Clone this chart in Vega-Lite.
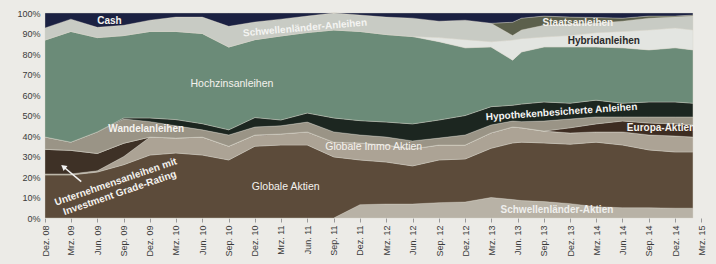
{
  "$schema": "https://vega.github.io/schema/vega-lite/v6.json",
  "width": 656,
  "height": 205,
  "autosize": "none",
  "padding": {"left": 45, "top": 13, "right": 15, "bottom": 46},
  "background": "#ecebe7",
  "config": {"view": {"stroke": null}, "font": "Liberation Sans"},
  "datasets": {
    "alloc": [
      {"date":"2008-12-01","Schwellenländer-Aktien":0,"Globale Aktien":21,"Globale Immo Aktien":0.5,"Unternehmensanleihen mit Investment Grade-Rating":12,"Europa-Aktien":0,"Wandelanleihen":6,"Hypothekenbesicherte Anleihen":0,"Hochzinsanleihen":47.3,"Hybridanleihen":0,"Schwellenländer-Anleihen":5.9,"Staatsanleihen":0,"Cash":7.3},
      {"date":"2009-03-01","Schwellenländer-Aktien":0,"Globale Aktien":21,"Globale Immo Aktien":0.5,"Unternehmensanleihen mit Investment Grade-Rating":11.5,"Europa-Aktien":0,"Wandelanleihen":4,"Hypothekenbesicherte Anleihen":0,"Hochzinsanleihen":54,"Hybridanleihen":0,"Schwellenländer-Anleihen":6,"Staatsanleihen":0,"Cash":3},
      {"date":"2009-06-01","Schwellenländer-Aktien":0,"Globale Aktien":22.4,"Globale Immo Aktien":0.6,"Unternehmensanleihen mit Investment Grade-Rating":8.5,"Europa-Aktien":0,"Wandelanleihen":10.5,"Hypothekenbesicherte Anleihen":0,"Hochzinsanleihen":46,"Hybridanleihen":0,"Schwellenländer-Anleihen":5,"Staatsanleihen":0,"Cash":7},
      {"date":"2009-09-01","Schwellenländer-Aktien":0,"Globale Aktien":26,"Globale Immo Aktien":4,"Unternehmensanleihen mit Investment Grade-Rating":6.5,"Europa-Aktien":0,"Wandelanleihen":11.8,"Hypothekenbesicherte Anleihen":0.5,"Hochzinsanleihen":40.2,"Hybridanleihen":0,"Schwellenländer-Anleihen":5,"Staatsanleihen":0,"Cash":6},
      {"date":"2009-12-01","Schwellenländer-Aktien":0,"Globale Aktien":30.7,"Globale Immo Aktien":8.8,"Unternehmensanleihen mit Investment Grade-Rating":0,"Europa-Aktien":0,"Wandelanleihen":7.5,"Hypothekenbesicherte Anleihen":1.8,"Hochzinsanleihen":42.2,"Hybridanleihen":0,"Schwellenländer-Anleihen":5.5,"Staatsanleihen":0,"Cash":3.5},
      {"date":"2010-03-01","Schwellenländer-Aktien":0,"Globale Aktien":31.7,"Globale Immo Aktien":7.3,"Unternehmensanleihen mit Investment Grade-Rating":0,"Europa-Aktien":0,"Wandelanleihen":6,"Hypothekenbesicherte Anleihen":3,"Hochzinsanleihen":43,"Hybridanleihen":0,"Schwellenländer-Anleihen":7,"Staatsanleihen":0,"Cash":2},
      {"date":"2010-06-01","Schwellenländer-Aktien":0,"Globale Aktien":30.7,"Globale Immo Aktien":8.8,"Unternehmensanleihen mit Investment Grade-Rating":0,"Europa-Aktien":0,"Wandelanleihen":3.5,"Hypothekenbesicherte Anleihen":3,"Hochzinsanleihen":44,"Hybridanleihen":0,"Schwellenländer-Anleihen":8,"Staatsanleihen":0,"Cash":2},
      {"date":"2010-09-01","Schwellenländer-Aktien":0,"Globale Aktien":28.3,"Globale Immo Aktien":6.7,"Unternehmensanleihen mit Investment Grade-Rating":0,"Europa-Aktien":0,"Wandelanleihen":5.5,"Hypothekenbesicherte Anleihen":2.5,"Hochzinsanleihen":40.4,"Hybridanleihen":0,"Schwellenländer-Anleihen":10.1,"Staatsanleihen":0,"Cash":6.5},
      {"date":"2010-12-01","Schwellenländer-Aktien":0,"Globale Aktien":35,"Globale Immo Aktien":5.5,"Unternehmensanleihen mit Investment Grade-Rating":0,"Europa-Aktien":0,"Wandelanleihen":3.9,"Hypothekenbesicherte Anleihen":4.6,"Hochzinsanleihen":38,"Hybridanleihen":0,"Schwellenländer-Anleihen":8.6,"Staatsanleihen":0,"Cash":4.4},
      {"date":"2011-03-01","Schwellenländer-Aktien":0,"Globale Aktien":35.6,"Globale Immo Aktien":5.4,"Unternehmensanleihen mit Investment Grade-Rating":0,"Europa-Aktien":0,"Wandelanleihen":4,"Hypothekenbesicherte Anleihen":2.8,"Hochzinsanleihen":41,"Hybridanleihen":0,"Schwellenländer-Anleihen":8.2,"Staatsanleihen":0,"Cash":3},
      {"date":"2011-06-01","Schwellenländer-Aktien":0,"Globale Aktien":35.6,"Globale Immo Aktien":6.4,"Unternehmensanleihen mit Investment Grade-Rating":0,"Europa-Aktien":0,"Wandelanleihen":4.8,"Hypothekenbesicherte Anleihen":4.4,"Hochzinsanleihen":39.3,"Hybridanleihen":0,"Schwellenländer-Anleihen":8,"Staatsanleihen":0,"Cash":1.5},
      {"date":"2011-09-01","Schwellenländer-Aktien":0,"Globale Aktien":29.8,"Globale Immo Aktien":7.2,"Unternehmensanleihen mit Investment Grade-Rating":0,"Europa-Aktien":0,"Wandelanleihen":5,"Hypothekenbesicherte Anleihen":6.8,"Hochzinsanleihen":42.9,"Hybridanleihen":0,"Schwellenländer-Anleihen":8.3,"Staatsanleihen":0,"Cash":0},
      {"date":"2011-12-01","Schwellenländer-Aktien":6.5,"Globale Aktien":21.8,"Globale Immo Aktien":8.3,"Unternehmensanleihen mit Investment Grade-Rating":0,"Europa-Aktien":0,"Wandelanleihen":3.9,"Hypothekenbesicherte Anleihen":7,"Hochzinsanleihen":43.5,"Hybridanleihen":0,"Schwellenländer-Anleihen":8,"Staatsanleihen":0,"Cash":1},
      {"date":"2012-03-01","Schwellenländer-Aktien":6.8,"Globale Aktien":20.5,"Globale Immo Aktien":8.3,"Unternehmensanleihen mit Investment Grade-Rating":0,"Europa-Aktien":0,"Wandelanleihen":3.9,"Hypothekenbesicherte Anleihen":7.3,"Hochzinsanleihen":42.7,"Hybridanleihen":0,"Schwellenländer-Anleihen":8.5,"Staatsanleihen":0,"Cash":2},
      {"date":"2012-06-01","Schwellenländer-Aktien":6.8,"Globale Aktien":18.6,"Globale Immo Aktien":8.3,"Unternehmensanleihen mit Investment Grade-Rating":0,"Europa-Aktien":0,"Wandelanleihen":3.9,"Hypothekenbesicherte Anleihen":8.3,"Hochzinsanleihen":42.6,"Hybridanleihen":0,"Schwellenländer-Anleihen":9,"Staatsanleihen":0,"Cash":2.5},
      {"date":"2012-09-01","Schwellenländer-Aktien":7.5,"Globale Aktien":20.8,"Globale Immo Aktien":7.3,"Unternehmensanleihen mit Investment Grade-Rating":0,"Europa-Aktien":0,"Wandelanleihen":3.4,"Hypothekenbesicherte Anleihen":8.8,"Hochzinsanleihen":38.2,"Hybridanleihen":2,"Schwellenländer-Anleihen":8,"Staatsanleihen":0,"Cash":4},
      {"date":"2012-12-01","Schwellenländer-Aktien":7.8,"Globale Aktien":21,"Globale Immo Aktien":6.8,"Unternehmensanleihen mit Investment Grade-Rating":0,"Europa-Aktien":0,"Wandelanleihen":4.9,"Hypothekenbesicherte Anleihen":9.5,"Hochzinsanleihen":33,"Hybridanleihen":4,"Schwellenländer-Anleihen":9.5,"Staatsanleihen":0,"Cash":3.5},
      {"date":"2013-03-01","Schwellenländer-Aktien":10,"Globale Aktien":24,"Globale Immo Aktien":7.5,"Unternehmensanleihen mit Investment Grade-Rating":0,"Europa-Aktien":0,"Wandelanleihen":3.9,"Hypothekenbesicherte Anleihen":8.9,"Hochzinsanleihen":29.1,"Hybridanleihen":2.6,"Schwellenländer-Anleihen":9,"Staatsanleihen":0,"Cash":5},
      {"date":"2013-05-15","Schwellenländer-Aktien":9,"Globale Aktien":27.6,"Globale Immo Aktien":7.8,"Unternehmensanleihen mit Investment Grade-Rating":0,"Europa-Aktien":0,"Wandelanleihen":2.9,"Hypothekenbesicherte Anleihen":7.7,"Hochzinsanleihen":22,"Hybridanleihen":9.8,"Schwellenländer-Anleihen":2.2,"Staatsanleihen":6.5,"Cash":4.5},
      {"date":"2013-06-15","Schwellenländer-Aktien":8.5,"Globale Aktien":28.5,"Globale Immo Aktien":7,"Unternehmensanleihen mit Investment Grade-Rating":0,"Europa-Aktien":0,"Wandelanleihen":3,"Hypothekenbesicherte Anleihen":8.6,"Hochzinsanleihen":25.4,"Hybridanleihen":6.5,"Schwellenländer-Anleihen":4.2,"Staatsanleihen":5.8,"Cash":2.5},
      {"date":"2013-09-01","Schwellenländer-Aktien":8,"Globale Aktien":28.6,"Globale Immo Aktien":5.8,"Unternehmensanleihen mit Investment Grade-Rating":0,"Europa-Aktien":0,"Wandelanleihen":4.9,"Hypothekenbesicherte Anleihen":9.3,"Hochzinsanleihen":26.8,"Hybridanleihen":4.9,"Schwellenländer-Anleihen":5.7,"Staatsanleihen":4.5,"Cash":1.5},
      {"date":"2013-12-01","Schwellenländer-Aktien":7,"Globale Aktien":29,"Globale Immo Aktien":5.5,"Unternehmensanleihen mit Investment Grade-Rating":0,"Europa-Aktien":2.5,"Wandelanleihen":4.3,"Hypothekenbesicherte Anleihen":7.7,"Hochzinsanleihen":27.4,"Hybridanleihen":5.6,"Schwellenländer-Anleihen":5.6,"Staatsanleihen":3.4,"Cash":2},
      {"date":"2014-03-01","Schwellenländer-Aktien":5.5,"Globale Aktien":31.5,"Globale Immo Aktien":5,"Unternehmensanleihen mit Investment Grade-Rating":0,"Europa-Aktien":3.9,"Wandelanleihen":3.4,"Hypothekenbesicherte Anleihen":8.2,"Hochzinsanleihen":25.9,"Hybridanleihen":7,"Schwellenländer-Anleihen":4.6,"Staatsanleihen":2.8,"Cash":2.2},
      {"date":"2014-06-01","Schwellenländer-Aktien":5,"Globale Aktien":30.6,"Globale Immo Aktien":6.4,"Unternehmensanleihen mit Investment Grade-Rating":0,"Europa-Aktien":5.3,"Wandelanleihen":2,"Hypothekenbesicherte Anleihen":6.7,"Hochzinsanleihen":27,"Hybridanleihen":8,"Schwellenländer-Anleihen":5,"Staatsanleihen":1.5,"Cash":2.5},
      {"date":"2014-09-01","Schwellenländer-Aktien":5,"Globale Aktien":28.2,"Globale Immo Aktien":7.3,"Unternehmensanleihen mit Investment Grade-Rating":0,"Europa-Aktien":5.8,"Wandelanleihen":3,"Hypothekenbesicherte Anleihen":7.3,"Hochzinsanleihen":25.4,"Hybridanleihen":9.7,"Schwellenländer-Anleihen":5.8,"Staatsanleihen":1,"Cash":1.5},
      {"date":"2014-12-01","Schwellenländer-Aktien":4.8,"Globale Aktien":27.4,"Globale Immo Aktien":7.8,"Unternehmensanleihen mit Investment Grade-Rating":0,"Europa-Aktien":5.9,"Wandelanleihen":3.4,"Hypothekenbesicherte Anleihen":7.3,"Hochzinsanleihen":26.4,"Hybridanleihen":9.7,"Schwellenländer-Anleihen":5.3,"Staatsanleihen":0.5,"Cash":1.5},
      {"date":"2015-02-01","Schwellenländer-Aktien":4.8,"Globale Aktien":27.4,"Globale Immo Aktien":7.3,"Unternehmensanleihen mit Investment Grade-Rating":0,"Europa-Aktien":5.9,"Wandelanleihen":3.9,"Hypothekenbesicherte Anleihen":6.7,"Hochzinsanleihen":26,"Hybridanleihen":9.7,"Schwellenländer-Anleihen":6.8,"Staatsanleihen":0.5,"Cash":1}
    ]
  },
  "encoding": {
    "x": {"field": "date", "type": "temporal",
      "scale": {"type": "utc", "domain": [{"year":2008,"month":12,"date":1,"utc":true},{"year":2015,"month":3,"date":1,"utc":true}]},
      "axis": {"title": null, "domain": false, "grid": false, "tickSize": 4, "tickColor": "#9a9a9a", "labelAngle": -90, "labelFontSize": 9, "labelColor": "#3a3a3a", "labelPadding": 3, "labelOverlap": false, "labelBound": false,
        "values": [
          {"year":2008,"month":12,"date":1,"utc":true},{"year":2009,"month":3,"date":1,"utc":true},{"year":2009,"month":6,"date":1,"utc":true},{"year":2009,"month":9,"date":1,"utc":true},
          {"year":2009,"month":12,"date":1,"utc":true},{"year":2010,"month":3,"date":1,"utc":true},{"year":2010,"month":6,"date":1,"utc":true},{"year":2010,"month":9,"date":1,"utc":true},
          {"year":2010,"month":12,"date":1,"utc":true},{"year":2011,"month":3,"date":1,"utc":true},{"year":2011,"month":6,"date":1,"utc":true},{"year":2011,"month":9,"date":1,"utc":true},
          {"year":2011,"month":12,"date":1,"utc":true},{"year":2012,"month":3,"date":1,"utc":true},{"year":2012,"month":6,"date":1,"utc":true},{"year":2012,"month":9,"date":1,"utc":true},
          {"year":2012,"month":12,"date":1,"utc":true},{"year":2013,"month":3,"date":1,"utc":true},{"year":2013,"month":6,"date":1,"utc":true},{"year":2013,"month":9,"date":1,"utc":true},
          {"year":2013,"month":12,"date":1,"utc":true},{"year":2014,"month":3,"date":1,"utc":true},{"year":2014,"month":6,"date":1,"utc":true},{"year":2014,"month":9,"date":1,"utc":true},
          {"year":2014,"month":12,"date":1,"utc":true},{"year":2015,"month":3,"date":1,"utc":true}
        ],
        "labelExpr": "['Jan.','Feb.','Mrz.','Apr.','Mai','Jun.','Jul.','Aug.','Sep.','Okt.','Nov.','Dez.'][utcmonth(datum.value)] + ' ' + utcFormat(datum.value, '%y')"
      }
    },
    "y": {"field": "value", "type": "quantitative",
      "scale": {"domain": [0, 100], "nice": false},
      "axis": {"title": null, "domain": false, "ticks": false, "grid": false, "values": [0,10,20,30,40,50,60,70,80,90,100], "labelOverlap": false, "labelExpr": "datum.value + '%'", "labelFontSize": 9, "labelColor": "#3a3a3a", "labelPadding": 5}
    }
  },
  "layer": [
    {
      "data": {"name": "alloc"},
      "transform": [
        {"fold": ["Schwellenländer-Aktien","Globale Aktien","Globale Immo Aktien","Unternehmensanleihen mit Investment Grade-Rating","Europa-Aktien","Wandelanleihen","Hypothekenbesicherte Anleihen","Hochzinsanleihen","Hybridanleihen","Schwellenländer-Anleihen","Staatsanleihen","Cash"], "as": ["series","value"]},
        {"calculate": "indexof(['Schwellenländer-Aktien','Globale Aktien','Globale Immo Aktien','Unternehmensanleihen mit Investment Grade-Rating','Europa-Aktien','Wandelanleihen','Hypothekenbesicherte Anleihen','Hochzinsanleihen','Hybridanleihen','Schwellenländer-Anleihen','Staatsanleihen','Cash'], datum.series)", "as": "rank"}
      ],
      "mark": {"type": "area", "interpolate": "linear", "stroke": "#d8d4cb", "strokeWidth": 0.6, "strokeOpacity": 0.6},
      "encoding": {
        "color": {"field": "series", "type": "nominal", "legend": null,
          "scale": {
            "domain": ["Schwellenländer-Aktien","Globale Aktien","Globale Immo Aktien","Unternehmensanleihen mit Investment Grade-Rating","Europa-Aktien","Wandelanleihen","Hypothekenbesicherte Anleihen","Hochzinsanleihen","Hybridanleihen","Schwellenländer-Anleihen","Staatsanleihen","Cash"],
            "range": ["#b8b2a6","#5c4b3a","#aca395","#3e3126","#3d2c21","#9a9486","#1c2620","#6b8b78","#e3e5e1","#c8cbc4","#5c604c","#1b2142"]
          }
        },
        "order": {"field": "rank", "type": "quantitative", "sort": "ascending"}
      }
    },
    {
      "data": {"values": [
        {"date": "2009-04-06", "value": 17.7, "date2": "2009-02-03", "value2": 25.0}
      ]},
      "mark": {"type": "rule", "color": "#f2f2f2", "strokeWidth": 1.6},
      "encoding": {
        "x2": {"field": "date2"},
        "y2": {"field": "value2"}
      }
    },
    {
      "data": {"values": [{"date": "2009-02-03", "value": 25.0}]},
      "mark": {"type": "point", "shape": "triangle-up", "filled": true, "color": "#f2f2f2", "size": 40, "angle": -51, "opacity": 1},
      "encoding": {}
    },
    {
      "data": {"values": [
        {"date": "2009-07-13", "value": 96.1, "label": "Cash"},
        {"date": "2013-12-28", "value": 95.1, "label": "Staatsanleihen"},
        {"date": "2014-10-13", "value": 43.9, "label": "Europa-Aktien"},
        {"date": "2009-11-18", "value": 43.4, "label": "Wandelanleihen"}
      ]},
      "mark": {"type": "text", "fontWeight": "bold", "fontSize": 10, "color": "#f4f2ee", "align": "center", "baseline": "middle"},
      "encoding": {"text": {"field": "label"}}
    },
    {
      "data": {"values": [{"date": "2011-05-24", "value": 92.7, "label": "Schwellenländer-Anleihen"}]},
      "mark": {"type": "text", "fontWeight": "bold", "fontSize": 10, "color": "#f4f4f2", "angle": -5, "align": "center", "baseline": "middle"},
      "encoding": {"text": {"field": "label"}}
    },
    {
      "data": {"values": [{"date": "2013-11-01", "value": 51.7, "label": "Hypothekenbesicherte Anleihen"}]},
      "mark": {"type": "text", "fontWeight": "bold", "fontSize": 10, "color": "#f4f4f2", "angle": -4, "align": "center", "baseline": "middle"},
      "encoding": {"text": {"field": "label"}}
    },
    {
      "data": {"values": [{"date": "2014-03-28", "value": 86.3, "label": "Hybridanleihen"}]},
      "mark": {"type": "text", "fontWeight": "bold", "fontSize": 10, "color": "#2a2a2a", "align": "center", "baseline": "middle"},
      "encoding": {"text": {"field": "label"}}
    },
    {
      "data": {"values": [
        {"date": "2010-09-12", "value": 65.4, "label": "Hochzinsanleihen"},
        {"date": "2012-01-18", "value": 34.6, "label": "Globale Immo Aktien"},
        {"date": "2011-03-18", "value": 15.1, "label": "Globale Aktien"}
      ]},
      "mark": {"type": "text", "fontSize": 10.5, "color": "#f4f2ee", "align": "center", "baseline": "middle"},
      "encoding": {"text": {"field": "label"}}
    },
    {
      "data": {"values": [{"date": "2013-10-16", "value": 3.9, "label": "Schwellenländer-Aktien"}]},
      "mark": {"type": "text", "fontWeight": "bold", "fontSize": 10, "color": "#efefed", "align": "center", "baseline": "middle"},
      "encoding": {"text": {"field": "label"}}
    },
    {
      "data": {"values": [
        {"date": "2009-08-04", "value": 17.6, "label": "Unternehmensanleihen mit"},
        {"date": "2009-08-18", "value": 12.2, "label": "Investment Grade-Rating"}
      ]},
      "mark": {"type": "text", "fontWeight": "bold", "fontSize": 10, "color": "#f4f2ee", "angle": -19, "align": "center", "baseline": "middle"},
      "encoding": {"text": {"field": "label"}}
    }
  ]
}
